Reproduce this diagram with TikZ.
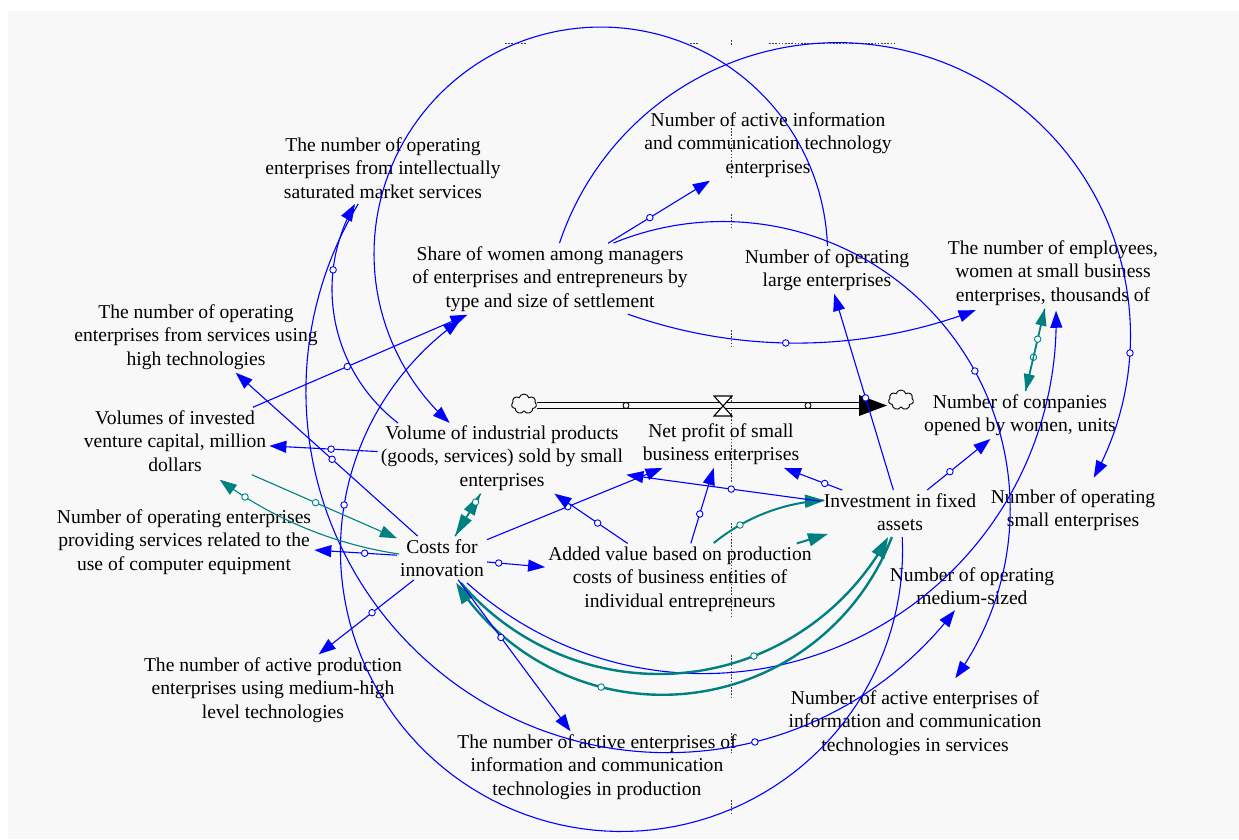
\documentclass[tikz,border=0pt]{standalone}
\usepackage{fontspec}
\setmainfont{Liberation Serif}
\usetikzlibrary{arrows.meta,shapes.symbols}
\definecolor{vblue}{RGB}{0,0,255}
\definecolor{vteal}{RGB}{0,128,128}
\definecolor{bggray}{RGB}{248,248,248}
\newcommand{\vcarc}[6]{\draw[#1] plot[domain=#5:#6, samples=100, variable=\t] ({#2+#4*cos(\t)},{#3+#4*sin(\t)});}
\newcommand{\vchandle}[5]{\node[#1] at ({#2+#4*cos(#5)},{#3+#4*sin(#5)}) {};}
\begin{document}
\begin{tikzpicture}[x=1pt,y=-1pt,
  txt/.style={font=\fontsize{19.6}{23.5}\selectfont, align=center, inner sep=3pt},
  barr/.style={draw=vblue, line width=1.1pt, -{Triangle[length=17pt,width=12pt]}},
  tthin/.style={draw=vteal, line width=1.1pt, -{Triangle[length=17pt,width=12pt]}},
  tthick/.style={draw=vteal, line width=2.4pt, -{Triangle[length=21pt,width=14pt]}},
  tmid/.style={draw=vteal, line width=2pt, -{Triangle[length=20pt,width=13pt]}},
  tpair/.style={draw=vteal, line width=1.5pt, -{Triangle[length=17pt,width=11pt]}},
  tdia/.style={draw=vteal, line width=1.5pt, -{Triangle[length=22pt,width=12pt]}},
  hb/.style={circle, draw=vblue, fill=white, line width=0.9pt, inner sep=0pt, minimum size=6.5pt},
  ht/.style={hb, draw=vteal},
  hk/.style={hb, draw=black, minimum size=6pt},
  dotl/.style={draw=black!75, line width=0.9pt, dash pattern=on 1.6pt off 1.6pt},
  cloudn/.style={cloud, draw=black, fill=bggray, line width=0.9pt, cloud puffs=7, aspect=1.25, minimum width=25pt, minimum height=20pt, inner sep=0pt},
  pipe/.style={draw=black, line width=1.3pt, double=bggray, double distance=4.2pt},
]
\useasboundingbox (0,0) rectangle (1239,839);
\fill[white] (0,0) rectangle (1239,839);
\fill[bggray] (8,11) rectangle (1239,839);

% dotted page-break marks
\foreach \a/\b in {40/46,128/178,214/228,330/347,397/483,523/617,655/697,733/753,800/813}
  \draw[dotl] (731,\a) -- (731,\b);
\foreach \a/\b in {505/526,690/698,769/897}
  \draw[dotl] (\a,43) -- (\b,43);

% variables
\node[txt] (intel) at (383,168) {The number of operating\\enterprises from intellectually\\saturated market services};
\node[txt] (ict) at (768,145) {Number of active information\\and communication technology\\enterprises};
\node[txt] (share) at (550,279) {Share of women among managers\\of enterprises and entrepreneurs by\\type and size of settlement};
\node[txt] (large) at (827,270) {Number of operating\\large enterprises};
\node[txt] (empl) at (1053,273) {The number of employees,\\women at small business\\enterprises, thousands of};
\node[txt] (hightech) at (196,337) {The number of operating\\enterprises from services using\\high technologies};
\node[txt] (vc) at (175,441) {Volumes of invested\\venture capital, million\\dollars};
\node[txt] (volume) at (502,458) {Volume of industrial products\\(goods, services) sold by small\\enterprises};
\node[txt] (profit) at (721,444) {Net profit of small\\business enterprises};
\node[txt] (companies) at (1020,415) {Number of companies\\opened by women, units};
\node[txt] (invest) at (900,512) {Investment in fixed\\assets};
\node[txt] (small) at (1073,510) {Number of operating\\small enterprises};
\node[txt] (medium) at (972,586) {Number of operating\\medium-sized};
\node[txt] (added) at (680,579) {Added value based on production\\costs of business entities of\\individual entrepreneurs};
\node[txt] (costs) at (442,558) {Costs for\\innovation};
\node[txt] (compeq) at (184,542) {Number of operating enterprises\\providing services related to the\\use of computer equipment};
\node[txt] (prodmh) at (273,690) {The number of active production\\enterprises using medium-high\\level technologies};
\node[txt] (ictprod) at (597,767) {The number of active enterprises of\\information and communication\\technologies in production};
\node[txt] (ictserv) at (915,723) {Number of active enterprises of\\information and communication\\technologies in services};

% flow pipe with valve
\node[cloudn] (cl) at (524,404) {};
\node[cloudn] (cr) at (901,400) {};
\coordinate (pend) at (861,405.5);
\draw[pipe] (cl.east |- pend) -- (pend);
\fill[black] (pend) ++(-2,-10.5) -- ++(28,10.5) -- ++(-28,10.5) -- cycle;
\draw[black, line width=1.1pt, fill=white] (714,396) -- (732,396) -- (714,416) -- (732,416) -- cycle;
\node[hk] at (626,405.5) {};
\node[hk] at (808,405.5) {};

% large circular arcs
\vcarc{barr}{600.8}{253.8}{226.8}{-2}{-228.2}          % large -> volume
\vcarc{barr}{837.5}{335.6}{293}{-161.6}{29}            % share -> small
\vchandle{hb}{837.5}{335.6}{293}{3.4}
\vcarc{barr}{722.6}{509.1}{287.6}{-112.3}{36}          % share -> ictserv
\vchandle{hb}{722.6}{509.1}{287.6}{-28.7}
\vcarc{barr}{703.2}{320.6}{353}{132}{-1.6}             % costs -> empl
\vcarc{barr}{621.5}{550.4}{281.1}{-2.7}{235}           % invest -> share
\vchandle{hb}{621.5}{550.4}{281.1}{189.3}
\vcarc{barr}{667.4}{391.2}{361.5}{211.2}{37.3}         % intel -> medium
\vchandle{hb}{667.4}{391.2}{361.5}{76}
\vcarc{barr}{501}{289}{169}{127.5}{210.2}              % volume -> intel
\vchandle{hb}{501}{289}{169}{186.5}
\vcarc{barr}{796.3}{-162}{505.1}{109.5}{69.2}          % share -> empl
\vchandle{hb}{796.3}{-162}{505.1}{91.2}

% teal arcs
\vcarc{tthick}{658.8}{413.5}{260.5}{139.4}{28.3}       % costs -> invest
\vchandle{ht}{658.8}{413.5}{260.5}{68.6}
\vcarc{tthick}{662.3}{448.9}{245.9}{21}{147}           % invest -> costs
\vchandle{ht}{662.3}{448.9}{245.9}{104.4}
\vcarc{tmid}{833.9}{689.7}{189.6}{-129.3}{-92.7}       % added -> invest
\vchandle{ht}{833.9}{689.7}{189.6}{-119.7}
\vcarc{tthin}{457.4}{159.7}{398.6}{98.4}{126.6}        % costs -> vc
\vchandle{ht}{457.4}{159.7}{398.6}{122.2}

% straight connectors
\draw[barr] (share) -- node[hb,pos=.41]{} (ict);
\draw[barr] (vc) -- node[hb,pos=.44]{} (share);
\draw[barr] (costs) -- node[hb,pos=.47]{} (hightech);
\draw[barr] (volume) -- node[hb,pos=.43]{} (vc);
\draw[barr] (costs) -- node[hb,pos=.39]{} (compeq);
\draw[barr] (costs) -- node[hb,pos=.44]{} (prodmh);
\draw[barr] (costs) -- node[hb,pos=.38]{} (ictprod);
\draw[barr] (costs) -- node[hb,pos=.2]{} (added);
\draw[barr] (costs) -- node[hb,pos=.46]{} (profit);
\draw[barr] (added) -- node[hb,pos=.41]{} (volume);
\draw[barr] (added) -- node[hb,pos=.39]{} (profit);
\draw[barr] (invest) -- node[hb,pos=.46]{} (volume);
\draw[barr] (invest) -- node[hb,pos=.3]{} (profit);
\draw[barr] (invest) -- node[hb,pos=.36]{} (companies);
\draw[barr] (invest) -- node[hb,pos=.47]{} (large);
\draw[tthin] (vc) -- node[ht,pos=.44]{} (costs);
\draw[tpair] (companies) -- node[ht,pos=.41]{} (empl);
\draw[tpair] (empl) -- node[ht,pos=.37]{} (companies);
\draw[tdia] (costs) -- (volume);
\draw[tdia] (volume) -- node[ht,pos=.2]{} (costs);
\draw[tmid] (added) -- (invest);
\end{tikzpicture}
\end{document}
